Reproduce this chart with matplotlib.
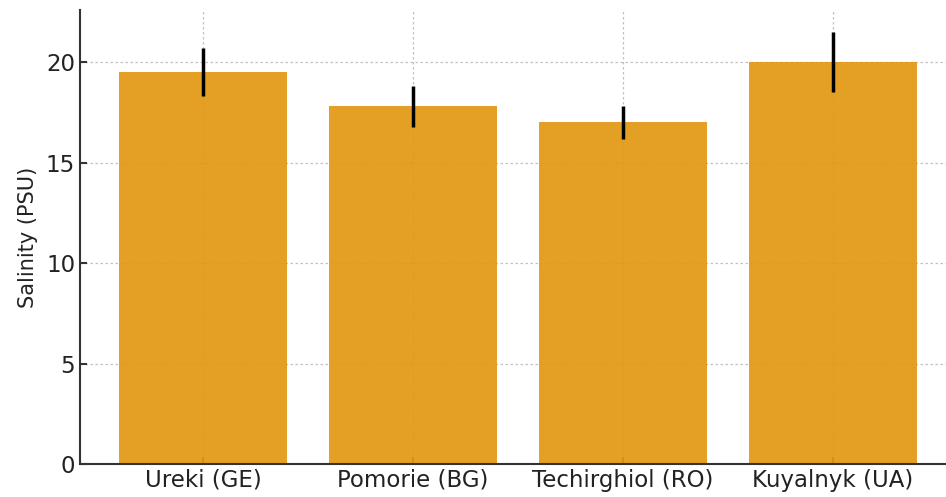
import matplotlib

matplotlib.use("Agg")
import matplotlib.pyplot as plt
import numpy as np

sites = ["Ureki (GE)", "Pomorie (BG)", "Techirghiol (RO)", "Kuyalnyk (UA)"]
salinity = [19.5, 17.8, 17.0, 20.0]
salinity_err = [1.2, 1.0, 0.8, 1.5]

bar_color = "#E29812"
spine_color = "#333333"

plt.rcParams["font.family"] = "DejaVu Sans"

fig = plt.figure(figsize=(9.46, 4.97), dpi=100)
ax = fig.add_axes([80 / 946, 33 / 497, 1 - 80 / 946, (464 - 10) / 497])

x = np.arange(len(sites))
ax.bar(x, salinity, width=0.8, color=bar_color, alpha=0.92, zorder=2)
ax.errorbar(x, salinity, yerr=salinity_err, fmt="none", ecolor="black",
            elinewidth=2.5, capsize=0, zorder=3)

ax.set_xlim(-0.586, 3.538)
ax.set_ylim(0, 22.6)
ax.set_xticks(x)
ax.set_xticklabels(sites, fontsize=16.5)
ax.set_yticks([0, 5, 10, 15, 20])
ax.tick_params(axis="y", labelsize=16.5)
ax.tick_params(direction="in", length=5, width=1.5, colors=spine_color,
               labelcolor="#222222")
ax.set_ylabel("Salinity (PSU)", fontsize=15, color="#222222", labelpad=6)

ax.grid(True, color="#999999", linestyle=(0, (2, 2)), linewidth=0.9, alpha=0.6, zorder=1)
ax.set_axisbelow(True)

for side in ["top", "right"]:
    ax.spines[side].set_visible(False)
for side in ["left", "bottom"]:
    ax.spines[side].set_color(spine_color)
    ax.spines[side].set_linewidth(1.5)

fig.savefig("out.png", dpi=100)
